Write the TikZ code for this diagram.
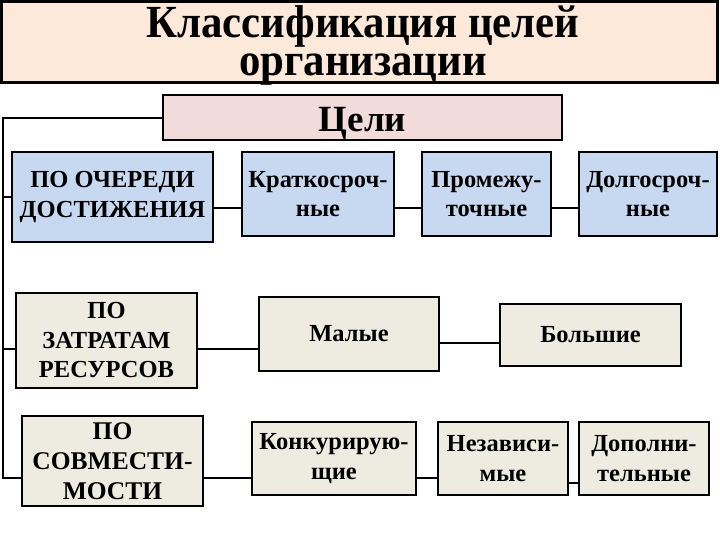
\documentclass[tikz,border=0pt]{standalone}
\usepackage{fontspec}
\setmainfont{Liberation Serif}
\newfontfamily\titlefont[FakeStretch=0.93]{Liberation Serif}
\begin{document}
\begin{tikzpicture}[x=1pt,y=-1pt,
  bx/.style={draw=black, line width=2.5pt, align=center, inner sep=1pt,
    font=\bfseries\fontsize{24.5}{29.5}\selectfont},
  conn/.style={draw=black, line width=2.5pt},
  ttl/.style={anchor=base, inner sep=0pt, font=\titlefont\bfseries\fontsize{46}{46}\selectfont},
]
\definecolor{peach}{HTML}{FDE9D9}
\definecolor{pinkc}{HTML}{F2DCDB}
\definecolor{bluec}{HTML}{C6D9F1}
\definecolor{beigec}{HTML}{EEECE1}
\useasboundingbox (0,0) rectangle (720,540);
\fill[white] (0,0) rectangle (720,540);
% title
\node[draw=black, line width=3pt, fill=peach, minimum width=716, minimum height=81,
  inner sep=0pt] (title) at (359,42) {};
\node[ttl] (t1) at (363,37.5) {Классификация целей};
\node[ttl] (t2) at (363,75.5) {организации};
% Цели
\node[bx, fill=pinkc, minimum width=399, minimum height=45, text height=29pt, text depth=0pt,
  font=\bfseries\fontsize{37}{37}\selectfont] (cel) at (362.5,117.5) {Цели};
% row 1
\node[bx, fill=bluec, minimum width=201, minimum height=90] (a1) at (112.5,197) {ПО ОЧЕРЕДИ\\ДОСТИЖЕНИЯ};
\node[bx, fill=bluec, minimum width=152, minimum height=84] (a2) at (318,194) {Краткосроч-\\ные};
\node[bx, fill=bluec, minimum width=129, minimum height=84] (a3) at (486.5,194) {Промежу-\\точные};
\node[bx, fill=bluec, minimum width=138, minimum height=84] (a4) at (648,194) {Долгосроч-\\ные};
% row 2
\node[bx, fill=beigec, minimum width=181, minimum height=95] (b1) at (106.5,340.5) {ПО\\ЗАТРАТАМ\\РЕСУРСОВ};
\node[bx, fill=beigec, minimum width=180, minimum height=74] (b2) at (349,334) {Малые};
\node[bx, fill=beigec, minimum width=181, minimum height=62] (b3) at (590.5,335) {Большие};
% row 3
\node[bx, fill=beigec, minimum width=181, minimum height=90,
  font=\bfseries\fontsize{25.5}{30}\selectfont] (c1) at (112.5,461) {ПО\\СОВМЕСТИ-\\МОСТИ};
\node[bx, fill=beigec, minimum width=164, minimum height=73] (c2) at (334,458.5) {Конкурирую-\\щие};
\node[bx, fill=beigec, minimum width=130, minimum height=73] (c3) at (503,458.5) {Независи-\\мые};
\node[bx, fill=beigec, minimum width=130, minimum height=73] (c4) at (644,458.5) {Дополни-\\тельные};
% spine
\coordinate (s0) at (3,118);
\coordinate (s1) at (3,197);
\coordinate (s2) at (3,349);
\coordinate (s3) at (3,478);
\draw[conn] (cel.west |- s0) -- (s0) -- (s3) -- (s3 -| c1.west);
\draw[conn] (s1) -- (s1 -| a1.west);
\draw[conn] (s2) -- (s2 -| b1.west);
% row connectors
\coordinate (h1) at (0,208);
\draw[conn] (h1 -| a1.east) -- (h1 -| a2.west);
\draw[conn] (h1 -| a2.east) -- (h1 -| a3.west);
\draw[conn] (h1 -| a3.east) -- (h1 -| a4.west);
\coordinate (h2) at (0,349);
\coordinate (h2b) at (0,343);
\draw[conn] (h2 -| b1.east) -- (h2 -| b2.west);
\draw[conn] (h2b -| b2.east) -- (h2b -| b3.west);
\coordinate (h3) at (0,478);
\coordinate (h3b) at (0,483);
\draw[conn] (h3 -| c1.east) -- (h3 -| c2.west);
\draw[conn] (h3 -| c2.east) -- (h3 -| c3.west);
\draw[conn] (h3b -| c3.east) -- (h3b -| c4.west);
\end{tikzpicture}
\end{document}
